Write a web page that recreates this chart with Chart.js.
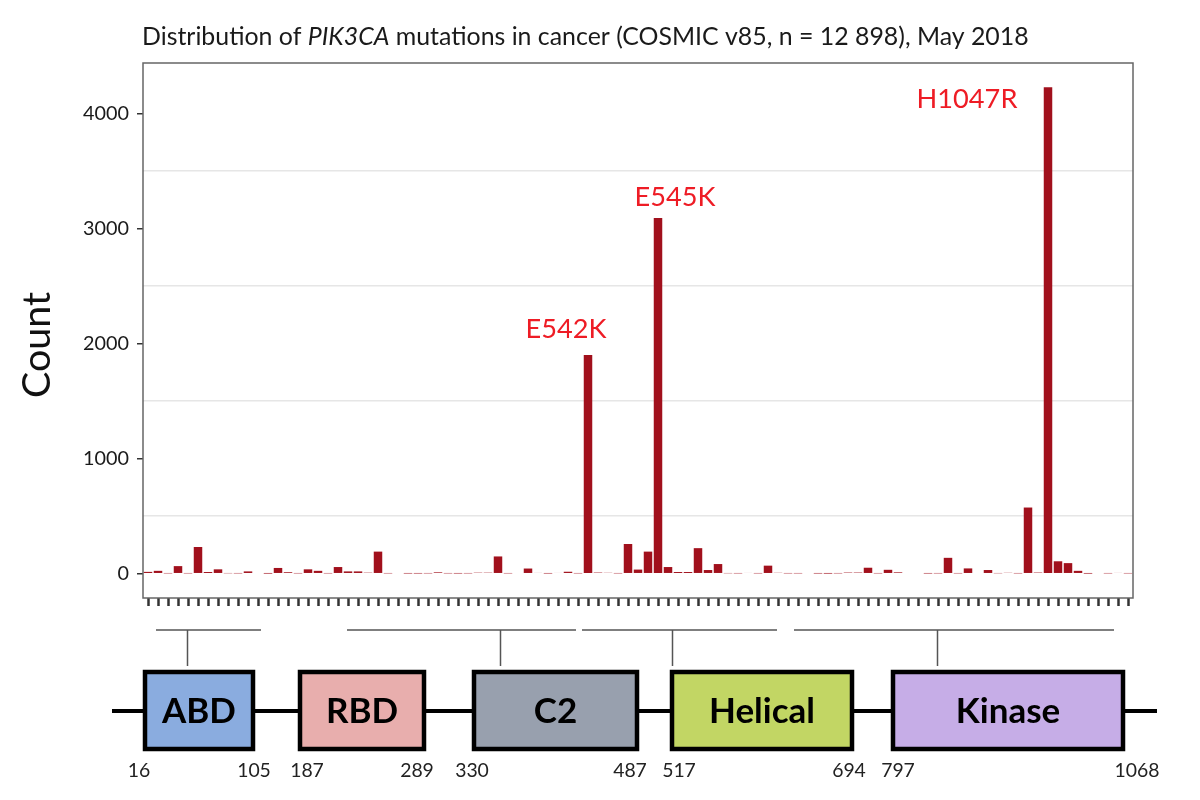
<!DOCTYPE html>
<html>
<head>
<meta charset="utf-8">
<script src="https://cdn.jsdelivr.net/npm/chart.js@4.4.1/dist/chart.umd.min.js"></script>
<style>
  html, body { margin: 0; padding: 0; background: #fff; }
  #wrap { width: 1200px; height: 800px; }
</style>
</head>
<body>
<div id="wrap"><canvas id="chart" width="1200" height="800"></canvas></div>
<script>
'use strict';

// mutation counts, one bar per mutated position, N- to C-terminus
const counts = [
	16, 25, 3, 66, 3, 232, 15, 38, 4, 3,
	20, 0, 1, 50, 13, 3, 38, 25, 3, 58,
	20, 20, 9, 192, 3, 0, 2, 2, 3, 12,
	3, 2, 3, 9, 9, 150, 3, 0, 45, 7,
	2, 6, 17, 3, 1900, 10, 8, 3, 258, 36,
	192, 3090, 58, 15, 15, 222, 32, 84, 4, 3,
	6, 3, 70, 8, 3, 3, 0, 2, 1, 3,
	10, 10, 52, 3, 34, 12, 0, 0, 2, 3,
	138, 3, 46, 0, 32, 4, 8, 3, 575, 10,
	4226, 108, 92, 25, 1, 0, 3, 7, 3
];
const categories = counts.map( ( v, i ) => String( i + 1 ) );

const yTicks = [ 0, 500, 1000, 1500, 2000, 2500, 3000, 3500, 4000 ];
const yLabels = [ 0, 1000, 2000, 3000, 4000 ];

const hotspots = [ 'E542K', 'E545K', 'H1047R' ];
const hotspotBar = [ 44, 51, 90 ];

const domainNames = [ 'ABD', 'RBD', 'C2', 'Helical', 'Kinase' ];
const domainStart = [ 16, 187, 330, 517, 797 ];
const domainEnd = [ 105, 289, 487, 694, 1068 ];

const titleParts = [
	[ 'Distribution of ', false ],
	[ 'PIK3CA', true ],
	[ ' mutations in cancer (COSMIC v85, n = 12 898), May 2018', false ]
];

// ---- layout & styles ----
const FONT = 'Lato, "Open Sans", sans-serif';
const BAR_COLOR = '#A1101C';
const LABEL_RED = '#EE1C25';
const hotspotOffset = [ [ -22, -26 ], [ 17, -21 ], [ -81, 12 ] ];
const domainColors = [ '#8AACDF', '#E8AEAD', '#98A0AE', '#C2D664', '#C6ADE7' ];
const domainBoxX = [ [ 145, 253 ], [ 300, 424 ], [ 474, 637 ], [ 672, 852 ], [ 893, 1123 ] ];
const startLabelX = [ 139, 307, 472, 679, 898 ];
const endLabelX = [ 254, 417, 630, 849, 1137 ];
// brackets in bar-index units
const bracketRange = [ [ 0.8, 11.3 ], [ 19.9, 42.8 ], [ 43.4, 62.9 ], [ 64.6, 96.6 ] ];
const bracketStem = [ 3.9, 35.2, 52.4, 78.9 ];
const DIAGRAM = { bracketY: 630, stemY: 666, lineY: 711, boxTop: 672, boxBottom: 749, numY: 771 };

const measureCtx = document.createElement( 'canvas' ).getContext( '2d' );
function fitSize( text, weight, style, width ) {
	measureCtx.font = style + ' ' + weight + ' 100px ' + FONT;
	return 100 * width / measureCtx.measureText( text ).width;
}

const tickSize = fitSize( '4000', 'normal', 'normal', 46 );
const numSize = fitSize( '1068', 'normal', 'normal', 45 );
const hotSize = fitSize( 'E545K', 'normal', 'normal', 81 );
const countSize = fitSize( 'Count', 'normal', 'normal', 106 );
const domainSize = fitSize( 'Helical', 'bold', 'normal', 106 );

let titleSize = 0;
( function () {
	let w = 0;
	titleParts.forEach( p => {
		measureCtx.font = ( p[ 1 ] ? 'italic' : 'normal' ) + ' normal 100px ' + FONT;
		w += measureCtx.measureText( p[ 0 ] ).width;
	} );
	titleSize = 100 * 887 / w;
} )();

const decor = {
	id: 'decor',
	afterDraw( chart ) {
		const c = chart.ctx;
		const area = chart.chartArea;
		const xs = chart.scales.x;
		const ys = chart.scales.y;

		c.save();

		// panel border
		c.strokeStyle = '#666';
		c.lineWidth = 1.5;
		c.strokeRect( area.left, area.top, area.right - area.left, area.bottom - area.top );

		// title
		let tx = 142;
		c.fillStyle = '#1a1a1a';
		c.textBaseline = 'middle';
		c.textAlign = 'left';
		titleParts.forEach( p => {
			c.font = ( p[ 1 ] ? 'italic ' : '' ) + titleSize.toFixed( 2 ) + 'px ' + FONT;
			c.fillText( p[ 0 ], tx, 37 );
			tx += c.measureText( p[ 0 ] ).width;
		} );

		// y axis title
		c.save();
		c.translate( 37, 345 );
		c.rotate( -Math.PI / 2 );
		c.textAlign = 'center';
		c.font = countSize.toFixed( 2 ) + 'px ' + FONT;
		c.fillStyle = '#111';
		c.fillText( 'Count', 0, 0 );
		c.restore();

		// hotspot labels
		c.font = hotSize.toFixed( 2 ) + 'px ' + FONT;
		c.fillStyle = LABEL_RED;
		c.textAlign = 'center';
		hotspots.forEach( ( name, i ) => {
			const idx = hotspotBar[ i ];
			const x = xs.getPixelForValue( idx ) + hotspotOffset[ i ][ 0 ];
			const y = ys.getPixelForValue( counts[ idx ] ) + hotspotOffset[ i ][ 1 ];
			c.fillText( name, x, y );
		} );

		// brackets linking the bars to the domains
		c.strokeStyle = '#555';
		c.lineWidth = 1.5;
		bracketRange.forEach( ( r, i ) => {
			const x1 = xs.getPixelForValue( r[ 0 ] );
			const x2 = xs.getPixelForValue( r[ 1 ] );
			const xm = Math.round( xs.getPixelForValue( bracketStem[ i ] ) ) + 0.5;
			c.beginPath();
			c.moveTo( x1, DIAGRAM.bracketY );
			c.lineTo( x2, DIAGRAM.bracketY );
			c.moveTo( xm, DIAGRAM.bracketY );
			c.lineTo( xm, DIAGRAM.stemY );
			c.stroke();
		} );

		// protein backbone
		c.strokeStyle = '#000';
		c.lineWidth = 4;
		c.beginPath();
		c.moveTo( 112, DIAGRAM.lineY );
		c.lineTo( 1157, DIAGRAM.lineY );
		c.stroke();

		// domain boxes
		domainNames.forEach( ( name, i ) => {
			const x1 = domainBoxX[ i ][ 0 ];
			const x2 = domainBoxX[ i ][ 1 ];
			const h = DIAGRAM.boxBottom - DIAGRAM.boxTop;
			c.fillStyle = domainColors[ i ];
			c.fillRect( x1, DIAGRAM.boxTop, x2 - x1, h );
			c.strokeStyle = '#000';
			c.lineWidth = 4.5;
			c.strokeRect( x1, DIAGRAM.boxTop, x2 - x1, h );

			c.fillStyle = '#000';
			c.font = 'bold ' + domainSize.toFixed( 2 ) + 'px ' + FONT;
			c.textAlign = 'center';
			c.fillText( name, ( x1 + x2 ) / 2, DIAGRAM.lineY + 1 );

			c.font = numSize.toFixed( 2 ) + 'px ' + FONT;
			c.fillStyle = '#222';
			c.fillText( String( domainStart[ i ] ), startLabelX[ i ], DIAGRAM.numY );
			c.fillText( String( domainEnd[ i ] ), endLabelX[ i ], DIAGRAM.numY );
		} );

		c.restore();
	}
};

const chart = new Chart( document.getElementById( 'chart' ), {
	type: 'bar',
	data: {
		labels: categories,
		datasets: [ {
			data: counts,
			backgroundColor: BAR_COLOR,
			borderWidth: 0,
			barPercentage: 0.85,
			categoryPercentage: 1
		} ]
	},
	options: {
		responsive: false,
		animation: false,
		layout: { padding: { left: 0, top: 63, right: 67, bottom: 0 } },
		plugins: {
			legend: { display: false },
			tooltip: { enabled: false },
			title: { display: false }
		},
		scales: {
			x: {
				offset: true,
				border: { display: false },
				grid: {
					offset: false,
					drawOnChartArea: false,
					drawTicks: true,
					tickLength: 8,
					tickWidth: 2.5,
					tickColor: '#333'
				},
				ticks: { display: false },
				afterFit: scale => { scale.height = 202; }
			},
			y: {
				min: -211,
				max: 4437,
				afterBuildTicks: axis => { axis.ticks = yTicks.map( v => ( { value: v } ) ); },
				border: { display: false },
				grid: {
					lineWidth: 1.5,
					color: ctx => ( ctx.tick && yLabels.includes( ctx.tick.value ) ) ? 'rgba(0,0,0,0)' : '#E6E6E6',
					tickLength: 6,
					tickWidth: 1.5,
					tickColor: ctx => ( ctx.tick && yLabels.includes( ctx.tick.value ) ) ? '#333' : 'rgba(0,0,0,0)'
				},
				ticks: {
					padding: 8,
					color: '#1a1a1a',
					font: { family: FONT, size: tickSize },
					callback: v => yLabels.includes( v ) ? String( v ) : ''
				},
				afterFit: scale => { scale.width = 143; }
			}
		}
	},
	plugins: [ decor ]
} );
</script>
</body>
</html>
